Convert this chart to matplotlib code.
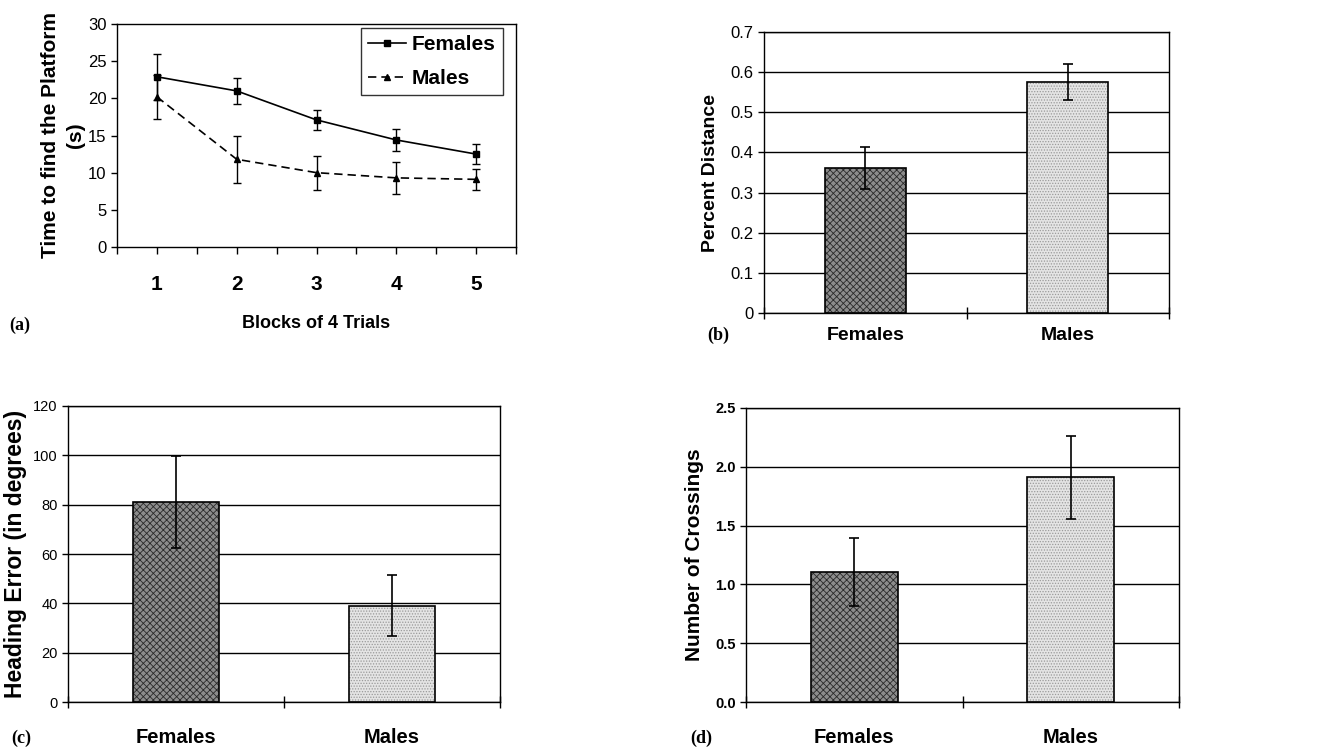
import matplotlib
matplotlib.use("Agg")
import matplotlib.pyplot as plt
import numpy as np

# ---------------- data ----------------
blocks = [1, 2, 3, 4, 5]
females_time = [22.9, 21.0, 17.1, 14.4, 12.5]
females_time_err = [3.1, 1.7, 1.3, 1.45, 1.4]
males_time = [20.2, 11.8, 10.0, 9.3, 9.1]
males_time_err = [3.0, 3.2, 2.3, 2.2, 1.45]

groups = ["Females", "Males"]
pct_distance = [0.361, 0.575]
pct_distance_err = [0.052, 0.045]
heading_error = [81.2, 39.0]
heading_error_err = [18.6, 12.3]
crossings = [1.105, 1.91]
crossings_err = [0.29, 0.355]

W, H = 1328, 752
fig = plt.figure(figsize=(W / 100, H / 100), dpi=100)
SANS = "Liberation Sans"
SERIF = "Liberation Serif"
plt.rcParams["font.family"] = SANS
plt.rcParams["hatch.linewidth"] = 0.6


def ax_px(left, top, right, bottom):
    return fig.add_axes([left / W, 1 - bottom / H, (right - left) / W, (bottom - top) / H])


def style_spines(ax):
    for s in ax.spines.values():
        s.set_color("black")
        s.set_linewidth(1.0)


# ---------------- (a) ----------------
axa = ax_px(117, 24, 516, 247)
style_spines(axa)
dash = (0, (5, 3))
axa.errorbar(blocks, females_time, yerr=females_time_err, fmt="none", ecolor="black",
             capsize=3, elinewidth=1.0, capthick=1.0)
axa.errorbar(blocks, males_time, yerr=males_time_err, fmt="none", ecolor="black",
             capsize=3, elinewidth=1.0, capthick=1.0)
axa.plot(blocks, females_time, color="black", lw=1.2, marker="s", ms=5, label="Females")
axa.plot(blocks, males_time, color="black", lw=1.2, ls=dash, marker="^", ms=5, label="Males")
axa.set_xlim(0.5, 5.5)
axa.set_ylim(0, 30)
axa.set_yticks(np.arange(0, 31, 5))
axa.tick_params(axis="y", labelsize=12, length=4, direction="out", width=1)
axa.set_xticks(blocks)
axa.set_xticklabels([str(b) for b in blocks], fontsize=15, fontweight="bold")
axa.set_xticks(np.arange(0.5, 5.6, 1.0), minor=True)
axa.tick_params(axis="x", which="both", length=5, direction="out", width=1, pad=15)
axa.set_ylabel("Time to find the Platform\n(s)", fontsize=15, fontweight="bold",
               linespacing=1.4, labelpad=2)
axa.set_xlabel("Blocks of 4 Trials", fontsize=13, fontweight="bold", labelpad=15)
leg = axa.legend(loc="upper right", bbox_to_anchor=(503 / W, 1 - 28 / H),
                 bbox_transform=fig.transFigure, prop={"family": SANS, "weight": "bold", "size": 15},
                 frameon=True, fancybox=False, edgecolor="black", handlelength=1.8,
                 borderpad=0.35, labelspacing=0.7, handletextpad=0.3, borderaxespad=0)
leg.get_frame().set_linewidth(1.0)


def bar_panel(rect, values, errs, ylim, yticks, yfmt, ylabel, ylabel_size, ytick_size,
              ytick_bold, xlab_pad, xlab_size, ylabelpad):
    ax = ax_px(*rect)
    style_spines(ax)
    x = np.arange(len(groups))
    ax.set_axisbelow(True)
    ax.yaxis.grid(True, color="black", lw=1.0)
    # textured fills
    ax.bar(x[0], values[0], width=0.4, color="#8c8c8c", hatch="xxxxx", edgecolor="#2a2a2a",
           linewidth=0, zorder=2)
    ax.bar(x[1], values[1], width=0.4, color="#e4e4e4", hatch="......", edgecolor="#9a9a9a",
           linewidth=0, zorder=2)
    ax.bar(x, values, width=0.4, fill=False, edgecolor="black", linewidth=1.2, zorder=3)
    ax.errorbar(x, values, yerr=errs, fmt="none", ecolor="black", elinewidth=1.2,
                capsize=3.5, capthick=1.2, zorder=4)
    ax.set_xlim(-0.5, 1.5)
    ax.set_ylim(*ylim)
    ax.set_yticks(yticks)
    ax.set_yticklabels([yfmt.format(v) for v in yticks], fontsize=ytick_size,
                       fontweight="bold" if ytick_bold else "normal")
    ax.tick_params(axis="y", length=4, direction="out", width=1)
    ax.set_xticks(x)
    ax.set_xticklabels(groups, fontsize=xlab_size, fontweight="bold")
    ax.set_xticks([-0.5, 0.5, 1.5], minor=True)
    ax.tick_params(axis="x", which="major", length=0, pad=xlab_pad)
    ax.tick_params(axis="x", which="minor", length=9, direction="inout", width=1)
    ax.set_ylabel(ylabel, fontsize=ylabel_size, fontweight="bold", labelpad=ylabelpad)
    return ax


axb = bar_panel((764, 32, 1169, 313), pct_distance, pct_distance_err, (0, 0.7),
                np.round(np.arange(0, 0.71, 0.1), 1), "{:g}", "Percent Distance", 14, 12, False,
                10, 14, 8)
axc = bar_panel((68, 406, 500, 702), heading_error, heading_error_err, (0, 120),
                np.arange(0, 121, 20), "{:g}", "Heading Error (in degrees)", 16.5, 10.5, False,
                19, 14.5, 4)
axd = bar_panel((746, 408, 1179, 702), crossings, crossings_err, (0, 2.5),
                np.arange(0, 2.51, 0.5), "{:.1f}", "Number of Crossings", 15, 10.5, True,
                19, 14.5, 8)

# panel letters
for lab, (px, py) in {"(a)": (20, 325), "(b)": (718, 335), "(c)": (21, 738), "(d)": (701, 738)}.items():
    fig.text(px / W, 1 - py / H, lab, family=SERIF, fontweight="bold", fontsize=13,
             ha="center", va="center")

fig.savefig("out.png", dpi=100)
